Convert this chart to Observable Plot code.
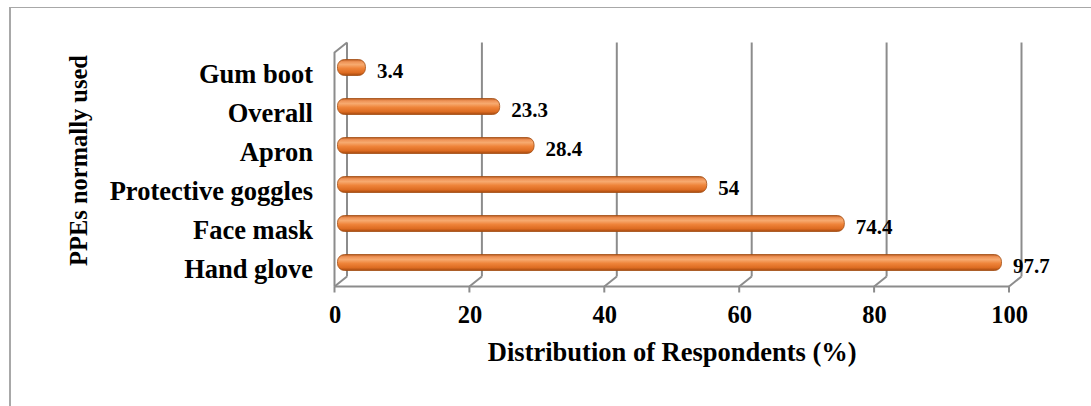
<!DOCTYPE html>
<html>
<head>
<meta charset="utf-8">
<script src="https://cdn.jsdelivr.net/npm/d3@7"></script>
<script src="https://cdn.jsdelivr.net/npm/@observablehq/plot@0.6"></script>
<style>
  html, body { margin: 0; padding: 0; background: #fff; }
  #wrap { position: relative; width: 1091px; height: 406px; overflow: hidden; }
  #border { position: absolute; left: 9px; top: 7px; right: -5px; bottom: -5px;
            border-top: 1.5px solid #a8a8a8; border-left: 2px solid #a8a8a8; pointer-events: none; }
</style>
</head>
<body>
<div id="wrap"><div id="border"></div></div>
<script>
// ---- data ----
const categories = ["Gum boot", "Overall", "Apron", "Protective goggles", "Face mask", "Hand glove"];
const values = [3.4, 23.3, 28.4, 54, 74.4, 97.7];
const xTicks = [0, 20, 40, 60, 80, 100];
const xTitle = "Distribution of Respondents (%)";
const yTitle = "PPEs normally used";

const data = categories.map((c, i) => ({category: c, value: values[i]}));

// 3D depth offsets (front / back of the chart box relative to frame)
const FRONT_DY = 4, BACK_DX = 12.5, BACK_DY = -6;
const GRID = "#8c8c8c";

const defs = () => {
  const d = d3.create("svg:defs");
  const g = d.append("linearGradient").attr("id", "cyl")
    .attr("x1", 0).attr("y1", 0).attr("x2", 0).attr("y2", 1);
  [[0, "#b5561b"], [0.14, "#ee9256"], [0.32, "#f7aa6f"], [0.55, "#ef843a"],
   [0.82, "#dd6c22"], [1, "#a5490f"]].forEach(([o, c]) =>
    g.append("stop").attr("offset", o).attr("stop-color", c));
  return d.node();
};

const walls = (index, scales, values, dims) => {
  const x = scales.x;
  const top = dims.marginTop, bot = dims.height - dims.marginBottom;
  const g = d3.create("svg:g").attr("fill", "none").attr("stroke", GRID)
    .attr("stroke-width", 2).attr("stroke-linejoin", "round");
  const yF = bot + FRONT_DY, yB = bot + BACK_DY;
  const x0 = x(xTicks[0]), xN = x(xTicks[xTicks.length - 1]);
  for (const t of xTicks) {
    g.append("line").attr("x1", x(t) + BACK_DX).attr("x2", x(t) + BACK_DX)
      .attr("y1", yB).attr("y2", top + BACK_DY);
  }
  g.append("path").attr("d",
    `M${x0},${yF}L${x0},${top + FRONT_DY}L${x0 + BACK_DX},${top + BACK_DY}`);
  g.append("line").attr("x1", x0).attr("x2", xN).attr("y1", yF).attr("y2", yF);
  for (const t of xTicks) {
    g.append("line").attr("x1", x(t)).attr("y1", yF).attr("x2", x(t) + BACK_DX).attr("y2", yB);
    g.append("line").attr("x1", x(t)).attr("y1", yF).attr("x2", x(t)).attr("y2", yF + 6);
  }
  return g.node();
};

const chart = Plot.plot({
  width: 1091,
  height: 406,
  marginLeft: 334.5,
  marginRight: 82,
  marginTop: 48.5,
  marginBottom: 123.5,
  style: {fontFamily: "'Liberation Serif', 'Times New Roman', serif", fontWeight: "bold", fontSize: "24px", background: "transparent", color: "#000", overflow: "visible"},
  x: {domain: [0, 100], ticks: xTicks},
  y: {domain: categories, paddingInner: 0.59, paddingOuter: 0.295},
  marks: [
    defs,
    walls,
    Plot.barX(data, {x: "value", y: "category", fill: "url(#cyl)", stroke: "#a24c12", strokeWidth: 0.8,
      dx: 6, dy: -0.5, rx: 7, insetLeft: -3, insetRight: -2}),
    Plot.text(data, {x: "value", y: "category", text: d => String(d.value), dx: 19, dy: 3,
      textAnchor: "start", fontSize: 21, fontWeight: "bold", fill: "#000"}),
    Plot.axisX(xTicks, {tickSize: 0, tickPadding: 19, dy: 4, label: null, fontSize: 24.5, fontWeight: "bold"}),
    Plot.axisY({tickSize: 0, tickPadding: 22, dy: 6.5, label: null, fontSize: 26.5, fontWeight: "bold"}),
    Plot.text([xTitle], {frameAnchor: "bottom", dy: 78, fontSize: 26.5, fontWeight: "bold", fill: "#000"}),
    Plot.text([yTitle], {frameAnchor: "left", textAnchor: "middle", dx: -255.5, dy: -5.5, rotate: -90, fontSize: 24.5, fontWeight: "bold", fill: "#000"})
  ]
});
document.getElementById("wrap").prepend(chart);
</script>
</body>
</html>
